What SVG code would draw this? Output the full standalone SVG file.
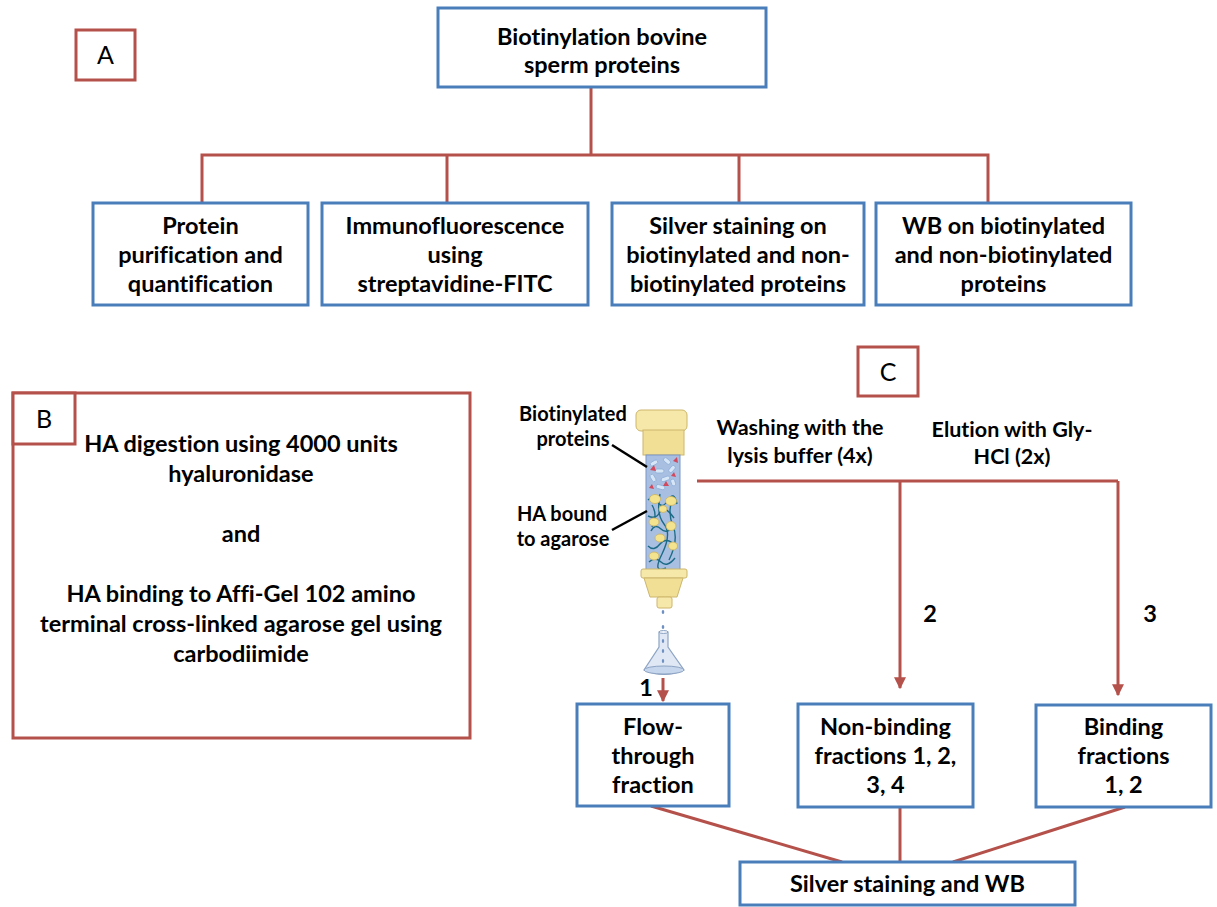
<svg xmlns="http://www.w3.org/2000/svg" width="1217" height="907" viewBox="0 0 1217 907">
  <defs>
    <style>
      .bx { fill: #ffffff; stroke: #4a7ebb; stroke-width: 3; }
      .lb { fill: #ffffff; stroke: #b5514b; stroke-width: 3; }
      .ln { fill: none; stroke: #b5514b; stroke-width: 3; }
      text { font-variant-ligatures: none; }
      .t { font-family: Lato, "Liberation Sans", sans-serif; font-weight: 700; font-size: 23.5px; fill: #000000; text-anchor: middle; }
      .tl { font-family: Lato, "Liberation Sans", sans-serif; font-weight: 400; font-size: 25px; fill: #000000; text-anchor: middle; }
      .ts { font-family: Lato, "Liberation Sans", sans-serif; font-weight: 700; font-size: 21.5px; fill: #000000; text-anchor: middle; }
      .tc { font-family: Lato, "Liberation Sans", sans-serif; font-weight: 700; font-size: 20px; fill: #000000; text-anchor: middle; }
      .pill { fill: #d6e6f7; stroke: #8eaed6; stroke-width: 0.8; }
      .tri { fill: #d2485c; }
      .blob { fill: #f4e38e; stroke: #c9b161; stroke-width: 0.8; }
      .sq { fill: none; stroke: #1c6b86; stroke-width: 1.4; }
      .cap { fill: #f6e8a9; stroke: #cdb66c; stroke-width: 1; }
      .drop { fill: #6f90c2; }
    </style>
    <marker id="ah" viewBox="0 0 10 10" refX="9" refY="5" markerWidth="4" markerHeight="4" orient="auto">
      <path d="M0,0 L10,5 L0,10 z" fill="#b5514b"/>
    </marker>
  </defs>

  <rect width="1217" height="907" fill="#ffffff"/>

  <!-- connectors -->
  <g id="connectors">
    <polyline class="ln" points="591,87 591,155"/>
    <polyline class="ln" points="202,203 202,155 988,155 988,203"/>
    <line class="ln" x1="447" y1="155" x2="447" y2="203"/>
    <line class="ln" x1="739" y1="155" x2="739" y2="203"/>

    <polyline class="ln" points="697,481 1118,481"/>
    <line class="ln" x1="900" y1="481" x2="900" y2="688" marker-end="url(#ah)"/>
    <line class="ln" x1="1118" y1="481" x2="1118" y2="695" marker-end="url(#ah)"/>
    <line class="ln" x1="663" y1="678" x2="663" y2="701" marker-end="url(#ah)"/>

    <line class="ln" x1="651" y1="806" x2="842" y2="862"/>
    <line class="ln" x1="900" y1="807" x2="900" y2="862"/>
    <line class="ln" x1="1125" y1="807" x2="953" y2="862"/>
  </g>

  <!-- panel A -->
  <g id="label-a">
    <rect class="lb" x="76" y="30" width="59" height="50"/>
    <text class="tl" x="105.5" y="64">A</text>
  </g>

  <g id="biotinylation">
    <rect class="bx" x="438" y="8" width="328" height="79"/>
    <text class="t" x="602" y="45">Biotinylation bovine</text>
    <text class="t" x="602" y="73">sperm proteins</text>
  </g>

  <g id="purification">
    <rect class="bx" x="93" y="203" width="215" height="102"/>
    <text class="t" x="200.5" y="234">Protein</text>
    <text class="t" x="200.5" y="263">purification and</text>
    <text class="t" x="200.5" y="292">quantification</text>
  </g>

  <g id="immunofluorescence">
    <rect class="bx" x="322" y="203" width="266" height="102"/>
    <text class="t" x="455" y="234">Immunofluorescence</text>
    <text class="t" x="455" y="263">using</text>
    <text class="t" x="455" y="292">streptavidine-FITC</text>
  </g>

  <g id="silver-staining">
    <rect class="bx" x="612" y="203" width="252" height="102"/>
    <text class="t" x="738" y="234">Silver staining on</text>
    <text class="t" x="738" y="263">biotinylated and non-</text>
    <text class="t" x="738" y="292">biotinylated proteins</text>
  </g>

  <g id="wb">
    <rect class="bx" x="876" y="203" width="255" height="102"/>
    <text class="t" x="1003.5" y="234">WB on biotinylated</text>
    <text class="t" x="1003.5" y="263">and non-biotinylated</text>
    <text class="t" x="1003.5" y="292">proteins</text>
  </g>

  <!-- panel B -->
  <g id="panel-b">
    <rect class="lb" x="13" y="393" width="457" height="345"/>
    <rect class="lb" x="13" y="393" width="62" height="51"/>
    <text class="tl" x="44" y="428">B</text>
    <text class="t" x="241" y="452">HA digestion using 4000 units</text>
    <text class="t" x="241" y="482">hyaluronidase</text>
    <text class="t" x="241" y="542">and</text>
    <text class="t" x="241" y="602">HA binding to Affi-Gel 102 amino</text>
    <text class="t" x="241" y="632">terminal cross-linked agarose gel using</text>
    <text class="t" x="241" y="662">carbodiimide</text>
  </g>

  <!-- panel C -->
  <g id="label-c">
    <rect class="lb" x="858" y="347" width="60" height="49"/>
    <text class="tl" x="888" y="381">C</text>
  </g>

  <g id="step-labels">
    <text class="ts" x="800" y="435">Washing with the</text>
    <text class="ts" x="800" y="463">lysis buffer (4x)</text>
    <text class="ts" x="1012" y="437">Elution with Gly-</text>
    <text class="ts" x="1012" y="464">HCl (2x)</text>
    <text class="t" x="930" y="622">2</text>
    <text class="t" x="1150" y="622">3</text>
    <text class="t" x="646" y="696">1</text>
  </g>

  <!-- affinity column -->
  <g id="column">
    <rect class="cap" x="636" y="410" width="51" height="21" rx="5"/>
    <rect x="643" y="430" width="41" height="25" fill="#f1df96" stroke="#cdb66c" stroke-width="1"/>
    <rect x="646" y="455" width="34" height="115" fill="#a8bfe2" stroke="#7b98c6" stroke-width="1"/>

    <!-- free biotinylated proteins -->
    <g id="proteins">
      <rect class="pill" x="650" y="461" width="8" height="4" rx="2" transform="rotate(-30 654 463)"/>
      <rect class="pill" x="663" y="459" width="8" height="4" rx="2" transform="rotate(40 667 461)"/>
      <rect class="pill" x="655" y="469" width="9" height="4" rx="2"/>
      <rect class="pill" x="668" y="467" width="8" height="4" rx="2" transform="rotate(-50 672 469)"/>
      <rect class="pill" x="649" y="476" width="8" height="4" rx="2" transform="rotate(60 653 478)"/>
      <rect class="pill" x="661" y="477" width="9" height="4" rx="2" transform="rotate(-20 665 479)"/>
      <rect class="pill" x="670" y="480" width="7" height="4" rx="2" transform="rotate(70 673 482)"/>
      <rect class="pill" x="656" y="485" width="9" height="4" rx="2" transform="rotate(15 660 487)"/>
      <path class="tri" d="M650,470 l4,-5 l2,6 z"/>
      <path class="tri" d="M673,461 l4,-4 l1,6 z"/>
      <path class="tri" d="M663,486 l3,-5 l3,5 z"/>
      <path class="tri" d="M671,476 l3,-4 l2,5 z"/>
      <path class="tri" d="M649,488 l3,-4 l2,5 z"/>
    </g>

    <!-- hyaluronan bound to agarose -->
    <g id="matrix">
      <path class="sq" d="M648,500 q6,-6 10,2 t10,-2 t9,4"/>
      <path class="sq" d="M648,516 q8,4 12,-4 t14,6"/>
      <path class="sq" d="M651,531 q4,-8 10,-2 t14,-4"/>
      <path class="sq" d="M648,546 q6,6 12,-2 t16,2"/>
      <path class="sq" d="M649,562 q6,-6 12,0 t14,-4"/>
      <path class="sq" d="M660,494 q-4,20 4,30 t-2,30 t4,14"/>
      <path class="sq" d="M673,496 q-6,16 0,30 t-4,34"/>
      <path class="sq" d="M652,505 q6,10 0,22"/>
      <ellipse class="blob" cx="655" cy="499" rx="5.5" ry="4.5"/>
      <ellipse class="blob" cx="671" cy="501" rx="5.5" ry="4.5"/>
      <ellipse class="blob" cx="663" cy="509" rx="4" ry="3.5"/>
      <ellipse class="blob" cx="654" cy="522" rx="5" ry="4"/>
      <ellipse class="blob" cx="671" cy="526" rx="5" ry="4.5"/>
      <ellipse class="blob" cx="660" cy="538" rx="5" ry="4"/>
      <ellipse class="blob" cx="673" cy="546" rx="4.5" ry="4"/>
      <ellipse class="blob" cx="654" cy="556" rx="5" ry="4"/>
    </g>

    <rect class="cap" x="641" y="569" width="46" height="9" rx="2"/>
    <path d="M644,578 L683,578 L677,597 L650,597 z" fill="#f1df96" stroke="#cdb66c" stroke-width="1"/>
    <rect class="cap" x="657" y="597" width="15" height="11" rx="2"/>
    <ellipse class="drop" cx="663" cy="612" rx="1.3" ry="2"/>
    <ellipse class="drop" cx="663" cy="627" rx="1.3" ry="2"/>

    <!-- collection flask -->
    <path d="M659,632 L659,647 L644,670 Q664,679 684,670 L668,647 L668,632 z" fill="#dfe8f4" stroke="#8ea4c4" stroke-width="1.2"/>
    <ellipse cx="663.5" cy="632" rx="4.5" ry="1.5" fill="#eef3fa" stroke="#8ea4c4" stroke-width="1"/>
    <ellipse cx="664" cy="670" rx="20" ry="4" fill="#c6d6ec" stroke="#8ea4c4" stroke-width="1"/>
    <ellipse class="drop" cx="663" cy="641" rx="1.2" ry="2"/>
    <ellipse class="drop" cx="663" cy="651" rx="1.2" ry="2"/>
    <ellipse class="drop" cx="663" cy="661" rx="1.2" ry="2"/>
  </g>

  <g id="column-labels">
    <text class="tc" x="573" y="421">Biotinylated</text>
    <text class="tc" x="573" y="446">proteins</text>
    <text class="tc" x="562" y="521">HA bound</text>
    <text class="tc" x="563" y="546">to agarose</text>
    <line x1="612" y1="445" x2="647" y2="467" stroke="#000000" stroke-width="2.5"/>
    <line x1="612" y1="530" x2="647" y2="511" stroke="#000000" stroke-width="2.5"/>
  </g>

  <g id="flow-through">
    <rect class="bx" x="577" y="704" width="152" height="102"/>
    <text class="t" x="653" y="735">Flow-</text>
    <text class="t" x="653" y="764">through</text>
    <text class="t" x="653" y="793">fraction</text>
  </g>

  <g id="non-binding">
    <rect class="bx" x="798" y="704" width="175" height="103"/>
    <text class="t" x="885.5" y="735">Non-binding</text>
    <text class="t" x="885.5" y="764">fractions 1, 2,</text>
    <text class="t" x="885.5" y="793">3, 4</text>
  </g>

  <g id="binding">
    <rect class="bx" x="1036" y="705" width="175" height="102"/>
    <text class="t" x="1123.5" y="735">Binding</text>
    <text class="t" x="1123.5" y="764">fractions</text>
    <text class="t" x="1123.5" y="793">1, 2</text>
  </g>

  <g id="silver-wb">
    <rect class="bx" x="740" y="862" width="335" height="43"/>
    <text class="t" x="907.5" y="892">Silver staining and WB</text>
  </g>
</svg>
